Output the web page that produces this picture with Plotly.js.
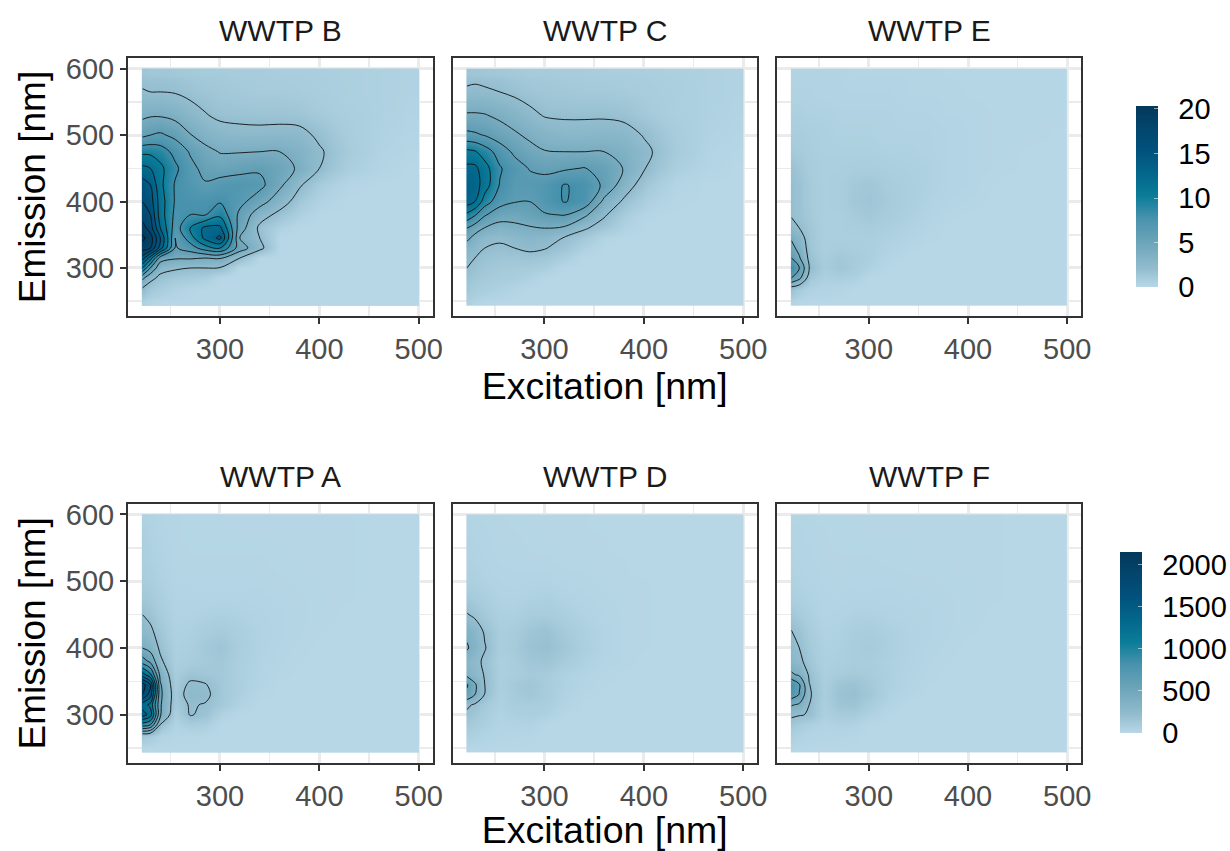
<!DOCTYPE html>
<html>
<head>
<meta charset="utf-8">
<script src="https://cdn.plot.ly/plotly-3.0.1.min.js"></script>
<style>html,body{margin:0;padding:0;background:#fff}#chart{width:1230px;height:851px}</style>
</head>
<body>
<div id="chart"></div>
<script>
var excitation = [222,230,240,255,270,285,300,320,340,360,380,400,430,465,498];
var emission = [245,270,285,300,315,330,345,360,380,400,425,450,475,500,530,565,600];

var wwtpB = [
[.5,.2,0,0,0,0,0,0,0,0,0,0,0,0,0],
[2,1.2,.8,.4,.1,0,0,0,0,0,0,0,0,0,0],
[4.5,2.5,1.6,1.2,1,.8,0,0,0,0,0,0,0,0,0],
[10,6,2.6,2.2,2,2,1.9,0,0,0,0,0,0,0,0],
[15,11,5,4.2,4.2,4,4.2,2,0,0,0,0,0,0,0],
[19,18,13,5.8,7,9,10,5,2.5,0,0,0,0,0,0],
[20.5,19,14,6,9,12.5,14.5,4,2,0,0,0,0,0,0],
[19,17,12,7,10,12.5,12.5,5,1.6,.5,0,0,0,0,0],
[17,16,11,7.5,8,7.9,9.5,5.5,2.8,1.5,.5,0,0,0,0],
[16,15,11,7.8,7.5,7.5,7.8,6.6,4.8,2.9,1.2,.3,0,0,0],
[15,14,10.5,7.8,7,6.2,6.8,7,6.6,4.4,2.2,.8,.1,0,0],
[12.5,12,10.5,8.4,6.6,5.4,5,5.4,5.7,4.9,3.7,2,.7,.2,0],
[9.5,9.5,9,7.4,5.8,4.6,3.9,3.9,4,4,3.3,2.2,.9,.3,.1],
[5.5,6,6.3,5.5,4.1,3.2,2.7,2.5,2.5,2.6,2.5,1.7,.8,.4,.2],
[3.6,3.8,3.8,3.4,2.7,2.1,1.7,1.6,1.5,1.5,1.4,1,.7,.5,.3],
[2.1,2,2,1.9,1.6,1.4,1.2,1.1,1,1,.9,.8,.6,.5,.4],
[1.4,1.3,1.3,1.2,1.1,1,1,.9,.9,.8,.8,.7,.6,.5,.4]];

var wwtpC = [
[.6,.3,.1,0,0,0,0,0,0,0,0,0,0,0,0],
[1.2,.9,.7,.5,.2,0,0,0,0,0,0,0,0,0,0],
[1.6,1.3,1.1,.9,.8,.5,0,0,0,0,0,0,0,0,0],
[2,1.6,1.3,1.1,1,.9,.7,0,0,0,0,0,0,0,0],
[2.4,2,1.6,1.4,1.4,1.5,1.3,.7,0,0,0,0,0,0,0],
[3,2.6,2,1.8,2,2.3,2.1,1.4,.5,0,0,0,0,0,0],
[4.5,3.3,2.4,2.2,2.6,2.8,2.6,1.9,1.1,.2,0,0,0,0,0],
[6,5,3.9,3.3,3.6,3.8,4,3.7,2.2,1.3,.4,0,0,0,0],
[9.5,8.2,6.2,4.8,4.6,5.2,5.8,6.1,4.4,2.2,.8,.1,0,0,0],
[13,12,9,6.8,6.1,6,7,8.1,7.4,3.5,1.7,.6,.1,0,0],
[13.5,13,11,7.9,6.5,6.6,7,8.1,7.6,5.6,3,1.2,.2,0,0],
[12.5,12.5,10.8,8.2,6.9,5.9,5.4,5.7,6.1,5.3,3.9,2.1,.7,.2,0],
[10.5,10.2,9,7.1,5.6,4.7,4.1,4,4,4,3.4,2.4,1,.3,.1],
[6.5,6.3,5.9,5,4.3,3.6,3,2.7,2.7,2.8,2.7,1.9,.9,.4,.2],
[4.2,4.2,4.1,3.6,3,2.4,1.9,1.8,1.8,1.8,1.6,1.1,.7,.5,.3],
[2.2,2.3,2.2,2,1.7,1.4,1.3,1.2,1.1,1.1,1,.9,.7,.5,.4],
[1.4,1.4,1.3,1.2,1.1,1,1,.9,.9,.8,.8,.7,.6,.5,.4]];

var wwtpE = [
[.3,.1,0,0,0,0,0,0,0,0,0,0,0,0,0],
[1.5,.9,.4,.3,.2,0,0,0,0,0,0,0,0,0,0],
[6,4.5,1.2,.6,.7,.6,0,0,0,0,0,0,0,0,0],
[8,6,2,.9,1.3,1,.5,0,0,0,0,0,0,0,0],
[6,4.2,1.6,.8,1.2,1,.7,.2,0,0,0,0,0,0,0],
[4.6,3.4,1.4,.7,.9,.8,.7,.4,.1,0,0,0,0,0,0],
[3.8,2.8,1.3,.7,.7,.7,.7,.5,.3,.1,0,0,0,0,0],
[2.4,2,1.2,.7,.7,.8,.9,.7,.4,.2,0,0,0,0,0],
[1.9,1.6,1.1,.7,.7,1,1.2,.9,.6,.3,.1,0,0,0,0],
[1.9,1.6,1,.7,.8,1.2,1.4,1,.7,.4,.2,.1,0,0,0],
[1.9,1.6,1,.7,.8,1.1,1.3,.9,.7,.5,.3,.2,0,0,0],
[1.6,1.3,.9,.7,.7,.8,.8,.7,.6,.5,.3,.2,.1,0,0],
[1.1,1,.8,.6,.6,.6,.6,.5,.5,.4,.3,.2,.1,0,0],
[.8,.8,.7,.6,.5,.5,.5,.4,.4,.4,.3,.2,.1,.1,0],
[.6,.6,.5,.5,.4,.4,.4,.4,.3,.3,.2,.2,.1,.1,.1],
[.4,.4,.4,.3,.3,.3,.3,.3,.2,.2,.2,.1,.1,.1,.1],
[.3,.3,.3,.3,.3,.2,.2,.2,.2,.2,.1,.1,.1,.1,.1]];

var wwtpA = [
[5,3,1,0,0,0,0,0,0,0,0,0,0,0,0],
[120,90,30,10,10,5,0,0,0,0,0,0,0,0,0],
[900,800,190,30,90,70,0,0,0,0,0,0,0,0,0],
[1500,1300,420,70,210,170,40,0,0,0,0,0,0,0,0],
[1300,1150,420,110,215,190,120,40,0,0,0,0,0,0,0],
[1800,1500,440,120,260,240,130,60,10,0,0,0,0,0,0],
[1900,1600,420,100,230,210,130,70,25,0,0,0,0,0,0],
[1300,1050,340,90,150,140,120,70,30,10,0,0,0,0,0],
[700,550,230,70,90,110,130,70,35,15,5,0,0,0,0],
[400,330,170,60,70,120,150,80,40,20,10,0,0,0,0],
[270,230,130,50,60,90,110,70,40,25,15,5,0,0,0],
[200,160,90,40,40,50,60,50,35,25,15,10,0,0,0],
[130,110,70,30,30,30,30,30,25,20,15,10,5,0,0],
[90,80,50,25,20,20,20,20,20,15,10,10,5,0,0],
[70,60,40,20,15,15,15,15,15,10,10,5,5,0,0],
[70,50,30,15,10,10,10,10,10,10,5,5,5,0,0],
[50,40,25,15,10,10,10,5,5,5,5,5,5,0,0]];

var wwtpD = [
[5,3,0,0,0,0,0,0,0,0,0,0,0,0,0],
[60,50,30,20,15,10,0,0,0,0,0,0,0,0,0],
[120,100,60,30,40,40,0,0,0,0,0,0,0,0,0],
[170,140,80,40,60,70,60,0,0,0,0,0,0,0,0],
[230,180,110,50,90,90,80,30,0,0,0,0,0,0,0],
[560,400,190,60,110,130,100,40,10,0,0,0,0,0,0],
[620,430,200,70,120,140,100,50,20,5,0,0,0,0,0],
[350,270,190,70,90,110,100,50,25,10,0,0,0,0,0],
[300,250,170,70,90,140,150,100,50,20,10,0,0,0,0],
[420,330,210,80,110,170,195,130,70,30,10,5,0,0,0],
[360,290,180,80,100,150,175,110,60,30,10,5,0,0,0],
[210,170,110,60,60,90,100,70,40,20,10,5,0,0,0],
[120,100,70,40,40,50,60,40,25,15,10,5,0,0,0],
[70,60,40,30,25,30,30,20,15,10,5,5,0,0,0],
[50,40,30,20,20,15,15,10,10,5,5,0,0,0,0],
[40,30,25,15,15,10,10,5,5,5,0,0,0,0,0],
[30,25,20,15,10,10,5,5,5,0,0,0,0,0,0]];

var wwtpF = [
[5,3,0,0,0,0,0,0,0,0,0,0,0,0,0],
[60,40,25,20,15,10,0,0,0,0,0,0,0,0,0],
[130,100,60,30,50,40,0,0,0,0,0,0,0,0,0],
[230,210,190,60,100,100,50,0,0,0,0,0,0,0,0],
[420,370,200,70,150,160,90,30,0,0,0,0,0,0,0],
[720,590,220,80,170,195,130,50,15,0,0,0,0,0,0],
[800,620,205,80,150,170,120,60,25,5,0,0,0,0,0],
[430,370,180,70,100,110,100,60,30,10,0,0,0,0,0],
[290,240,130,60,70,90,90,60,35,15,5,0,0,0,0],
[240,200,110,50,60,90,110,70,40,20,10,0,0,0,0],
[205,160,90,40,50,80,90,60,40,25,15,5,0,0,0],
[130,100,60,30,35,50,50,40,30,25,15,10,0,0,0],
[70,60,45,25,25,30,30,25,25,20,15,10,5,0,0],
[50,40,30,20,15,20,20,20,15,15,10,10,5,0,0],
[35,30,25,15,15,15,15,10,10,10,10,5,5,0,0],
[25,25,20,15,10,10,10,10,10,5,5,5,5,0,0],
[20,20,15,10,10,10,5,5,5,5,5,5,5,0,0]];

var panelNames = ["WWTP B","WWTP C","WWTP E","WWTP A","WWTP D","WWTP F"];
var panelData = [wwtpB,wwtpC,wwtpE,wwtpA,wwtpD,wwtpF];
var topTicks = [0,5,10,15,20];
var bottomTicks = [0,500,1000,1500,2000];

var W = 1230, H = 851;
var colorscale = [[0,"#b7d7e6"],[.05,"#a6cbdb"],[.1,"#93bdcf"],[.25,"#6ba4b9"],[.38,"#4892ad"],[.5,"#0b7d99"],[.62,"#03688c"],[.75,"#01527d"],[.88,"#03456d"],[1,"#04385b"]];

function edges(c, lo, hi){
  var e=[lo];
  for(var i=0;i<c.length-1;i++) e.push((c[i]+c[i+1])/2);
  e.push(hi);
  return e;
}
var exEdges = edges(excitation,221.5,500);
var emEdges = edges(emission,244,600);

function colorbarFor(r, labelled){
  var bar = {thickness:22,thicknessmode:"pixels",len:181,lenmode:"pixels",x:(r===0?1136:1119.5)/W,xanchor:"left",xpad:0,ypad:0,
    y:1-(r===0?287.3:733)/H,yanchor:"bottom",outlinewidth:0,tickvals:r===0?topTicks:bottomTicks};
  if(labelled){
    bar.ticks="outside"; bar.ticklen=15; bar.tickwidth=1; bar.tickcolor="rgba(255,255,255,0)";
    bar.tickfont={size:29,color:"#000"};
  } else {
    bar.ticks="inside"; bar.ticklen=4; bar.tickwidth=1; bar.tickcolor="rgba(255,255,255,.55)";
    bar.showticklabels=false;
  }
  return bar;
}

var colsPx = [[128,432.5],[452.5,757],[777,1081]];
var rowsPx = [[58.3,315.7],[504,762.7]];
var traces = [], layout = {
  width:W,height:H,margin:{l:0,r:0,t:0,b:0},paper_bgcolor:"#fff",plot_bgcolor:"#fff",
  font:{family:"Liberation Sans, Arial, sans-serif",color:"#000"},showlegend:false,annotations:[]
};
panelData.forEach(function(z,i){
  var r = i<3?0:1, c = i%3, n = i+1, suf = n===1?"":n;
  var zmax = r===0?20.3:2150, step = r===0?2:200;
  traces.push({type:"heatmap",x:exEdges,y:emEdges,z:z,zmin:0,zmax:zmax,zsmooth:"best",colorscale:colorscale,
    showscale:c===0,colorbar:colorbarFor(r,true),xaxis:"x"+suf,yaxis:"y"+suf,hoverinfo:"skip"});
  if(c===0){
    traces.push({type:"heatmap",x:exEdges,y:emEdges,z:z,zmin:0,zmax:zmax,zsmooth:"best",colorscale:colorscale,
      showscale:true,colorbar:colorbarFor(r,false),xaxis:"x"+suf,yaxis:"y"+suf,hoverinfo:"skip"});
  }
  traces.push({type:"contour",x:excitation,y:emission,z:z,autocontour:false,
    contours:{start:step,end:step*10,size:step,coloring:"none"},line:{color:"#111",width:.9,smoothing:1},
    showscale:false,xaxis:"x"+suf,yaxis:"y"+suf,hoverinfo:"skip"});
  layout["xaxis"+suf] = {domain:[colsPx[c][0]/W,colsPx[c][1]/W],range:[207.5,513.8],anchor:"y"+suf,
    tickvals:[300,400,500],ticks:"outside",ticklen:6,tickwidth:2,tickcolor:"#333",
    tickfont:{size:29,color:"#4d4d4d"},showline:true,mirror:true,linecolor:"#333",linewidth:2,
    showgrid:true,gridcolor:"#ebebeb",gridwidth:3,zeroline:false,
    minor:{tickvals:[250,350,450],showgrid:true,gridcolor:"#ebebeb",gridwidth:1.5,ticks:""},
    title:c===1?{text:"Excitation [nm]",font:{size:37.5,color:"#000"},standoff:7}:{text:""}};
  layout["yaxis"+suf] = {domain:[1-rowsPx[r][1]/H,1-rowsPx[r][0]/H],range:[228.2,615.6],anchor:"x"+suf,
    tickvals:[300,400,500,600],ticks:c===0?"outside":"",ticklen:6,tickwidth:2,tickcolor:"#333",showticklabels:c===0,
    tickfont:{size:29,color:"#4d4d4d"},showline:true,mirror:true,linecolor:"#333",linewidth:2,
    showgrid:true,gridcolor:"#ebebeb",gridwidth:3,zeroline:false,
    minor:{tickvals:[250,350,450,550],showgrid:true,gridcolor:"#ebebeb",gridwidth:1.5,ticks:""},
    title:c===0?{text:"Emission [nm]",font:{size:37,color:"#000"},standoff:9}:{text:""}};
  layout.annotations.push({text:panelNames[i],xref:"x"+suf+" domain",yref:"y"+suf+" domain",x:.5,y:1,xanchor:"center",yanchor:"bottom",
    yshift:9,showarrow:false,font:{size:30,color:"#1a1a1a"}});
});
Plotly.newPlot("chart",traces,layout,{staticPlot:true,displayModeBar:false});
</script>
</body>
</html>
